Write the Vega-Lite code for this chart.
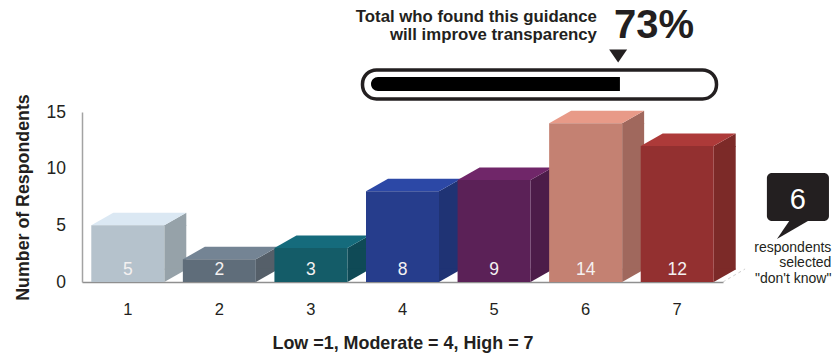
{
  "$schema": "https://vega.github.io/schema/vega-lite/v6.json",
  "width": 641,
  "height": 170,
  "autosize": "none",
  "padding": {"left": 82, "top": 112, "right": 114, "bottom": 73},
  "background": "white",
  "config": {"view": {"stroke": null}, "font": "Liberation Sans", "axis": {"grid": false}},
  "datasets": {
    "ratings": [
      {"rating": "1", "respondents": 5},
      {"rating": "2", "respondents": 2},
      {"rating": "3", "respondents": 3},
      {"rating": "4", "respondents": 8},
      {"rating": "5", "respondents": 9},
      {"rating": "6", "respondents": 14},
      {"rating": "7", "respondents": 12}
    ],
    "summary": [{"share": 73, "shareLabel": "73%", "dontKnow": 6}]
  },
  "layer": [
    {
      "data": {"name": "ratings"},
      "encoding": {
        "x": {"field": "rating", "type": "nominal", "sort": null,
          "scale": {"paddingInner": 0, "paddingOuter": 0},
          "axis": {"title": "Low =1, Moderate = 4, High = 7", "labelAngle": 0, "ticks": false, "labelPadding": 19, "labelFontSize": 16.5, "labelColor": "#231f20", "domainColor": "#8f8f8f", "domainWidth": 1.5, "titleFontSize": 17.9, "titleFontWeight": "bold", "titleColor": "#231f20", "titlePadding": 17}},
        "y": {"field": "respondents", "type": "quantitative",
          "scale": {"domain": [0, 15], "nice": false, "clamp": false},
          "axis": {"title": "Number of Respondents", "values": [0, 5, 10, 15], "ticks": false, "labelPadding": 16.5, "labelFontSize": 17.5, "labelColor": "#231f20", "domainColor": "#a3a3a3", "domainWidth": 1.5, "titleFontSize": 17.8, "titleFontWeight": "bold", "titleColor": "#231f20", "titlePadding": 14}}
      },
      "layer": [
        {
          "mark": {"type": "bar", "width": 22, "xOffset": 47.5, "y2Offset": -12.5},
          "encoding": {
            "y2": {"datum": 0},
            "color": {"field": "rating", "type": "nominal", "legend": null,
              "scale": {"range": ["#96a2a9", "#555f69", "#0f4a56", "#1f3374", "#4c1c49", "#a0685d", "#7c2a28"]}}
          }
        },
        {
          "mark": {"type": "point", "filled": true, "opacity": 1, "size": 1936, "shape": "M1.659,0 L2.659,-0.568 L2.659,0.03 L1.659,0.03 Z"},
          "encoding": {
            "color": {"field": "rating", "type": "nominal", "legend": null,
              "scale": {"range": ["#96a2a9", "#555f69", "#0f4a56", "#1f3374", "#4c1c49", "#a0685d", "#7c2a28"]}}
          }
        },
        {
          "mark": {"type": "point", "filled": true, "opacity": 1, "size": 1936, "shape": "M1.659,0 L2.659,-0.568 L2.659,-0.6 L1.659,-0.6 Z"},
          "encoding": {
            "y": {"datum": 0},
            "color": {"field": "rating", "type": "nominal", "legend": null,
              "scale": {"range": ["#96a2a9", "#555f69", "#0f4a56", "#1f3374", "#4c1c49", "#a0685d", "#7c2a28"]}}
          }
        },
        {
          "mark": {"type": "point", "filled": true, "opacity": 1, "size": 1936, "shape": "M-1.659,0 L1.659,0 L2.659,-0.568 L-0.659,-0.568 Z"},
          "encoding": {
            "color": {"field": "rating", "type": "nominal", "legend": null,
              "scale": {"range": ["#dbe8f3", "#748494", "#156b7c", "#2c48a6", "#702669", "#e89a88", "#ad3a39"]}}
          }
        },
        {
          "mark": {"type": "bar", "width": 73},
          "encoding": {
            "y2": {"datum": 0},
            "color": {"field": "rating", "type": "nominal", "legend": null,
              "scale": {"range": ["#b5c2cc", "#5f6d7a", "#145c68", "#263d8c", "#5b2157", "#c48172", "#933030"]}}
          }
        },
        {
          "mark": {"type": "text", "fontSize": 17.5, "color": "#f4f1f1", "baseline": "alphabetic", "dy": -7},
          "encoding": {
            "y": {"datum": 0},
            "text": {"field": "respondents", "type": "quantitative"}
          }
        }
      ],
      "resolve": {"scale": {"color": "independent"}}
    },
    {
      "data": {"name": "summary"},
      "encoding": {
        "x": {"field": "share", "type": "quantitative",
          "scale": {"domain": [0, 100], "range": [289, 630], "nice": false, "zero": false, "clamp": false},
          "axis": null}
      },
      "layer": [
        {
          "mark": {"type": "rule", "stroke": "#cfcfcf", "strokeWidth": 1, "strokeDash": [3, 3]},
          "encoding": {
            "x": {"datum": 103.2},
            "x2": {"datum": 109.7},
            "y": {"datum": 0},
            "y2": {"datum": 1.15}
          }
        },
        {
          "mark": {"type": "rect", "fill": "white", "stroke": "#231f20", "strokeWidth": 3.5, "cornerRadius": 14, "xOffset": -8.5, "x2Offset": 4.5},
          "encoding": {
            "x": {"datum": 0},
            "x2": {"datum": 100},
            "y": {"datum": 18.71},
            "y2": {"datum": 16.15}
          }
        },
        {
          "mark": {"type": "rect", "fill": "#000000", "cornerRadiusTopLeft": 7, "cornerRadiusBottomLeft": 7},
          "encoding": {
            "x": {"datum": 0},
            "x2": {"field": "share"},
            "y": {"datum": 18.09},
            "y2": {"datum": 16.85}
          }
        },
        {
          "mark": {"type": "point", "filled": true, "opacity": 1, "size": 324, "color": "#231f20", "shape": "M-1.2,-0.72 L0.8,-0.72 L-0.2,0.72 Z"},
          "encoding": {"y": {"datum": 19.94}}
        },
        {
          "mark": {"type": "text", "text": "Total who found this guidance\nwill improve transparency", "lineBreak": "\n", "lineHeight": 18, "fontSize": 16.8, "fontWeight": "bold", "color": "#231f20", "align": "right", "baseline": "alphabetic", "dx": -23},
          "encoding": {"y": {"datum": 22.9}}
        },
        {
          "mark": {"type": "text", "fontSize": 40, "fontWeight": "bold", "color": "#231f20", "align": "left", "baseline": "alphabetic", "dx": -6},
          "encoding": {"y": {"datum": 21.5}, "text": {"field": "shareLabel"}}
        },
        {
          "mark": {"type": "rect", "fill": "#231f20", "cornerRadius": 5},
          "encoding": {
            "x": {"datum": 116.1},
            "x2": {"datum": 134.3},
            "y": {"datum": 9.62},
            "y2": {"datum": 5.38}
          }
        },
        {
          "mark": {"type": "point", "filled": true, "opacity": 1, "size": 1600, "color": "#231f20", "shape": "M-0.4,-0.5 L0.5,-0.5 L0.5,-0.45 L-1.05,0.45 Z"},
          "encoding": {"x": {"datum": 125.2}, "y": {"datum": 4.59}}
        },
        {
          "mark": {"type": "text", "fontSize": 29, "color": "#ffffff", "align": "center", "baseline": "alphabetic"},
          "encoding": {"x": {"datum": 125.2}, "y": {"datum": 6.44}, "text": {"field": "dontKnow"}}
        },
        {
          "mark": {"type": "text", "text": "respondents\nselected\n\"don't know\"", "lineBreak": "\n", "lineHeight": 15.5, "fontSize": 14, "color": "#231f20", "align": "right", "baseline": "alphabetic"},
          "encoding": {"x": {"datum": 135}, "y": {"datum": 2.69}}
        }
      ]
    }
  ],
  "resolve": {"scale": {"x": "independent"}}
}
